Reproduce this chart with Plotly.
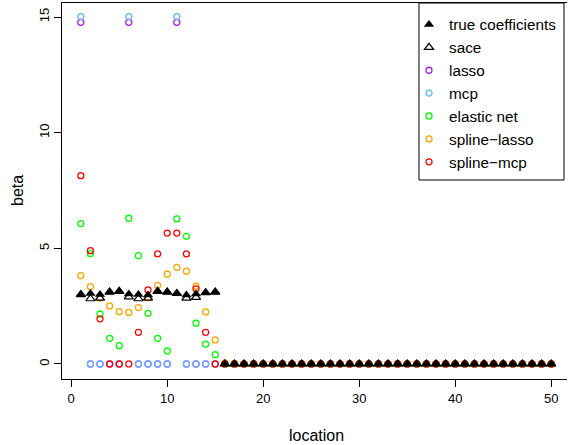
import plotly.graph_objects as go

location = list(range(1, 51))
zeros35 = [0.0] * 35

true_coef = [3.00, 3.05, 3.00, 3.11, 3.14, 3.03, 3.00, 2.98, 3.14, 3.11, 3.05, 2.98, 3.03, 3.08, 3.11] + zeros35
sace = [3.00, 2.82, 2.85, 3.11, 3.14, 2.90, 2.82, 2.85, 3.14, 3.11, 3.05, 2.85, 2.88, 3.08, 3.11] + zeros35
lasso = [14.77, 0, 0, 0, 0, 14.77, 0, 0, 0, 0, 14.77, 0, 0, 0, 0] + zeros35
mcp = [15.02, 0, 0, 0, 0, 15.02, 0, 0, 0, 0, 15.02, 0, 0, 0, 0] + zeros35
elastic_net = [6.07, 4.77, 2.16, 1.11, 0.79, 6.30, 4.68, 2.19, 1.11, 0.56, 6.27, 5.52, 1.76, 0.86, 0.40] + zeros35
spline_lasso = [3.82, 3.34, 2.85, 2.51, 2.26, 2.23, 2.44, 2.87, 3.40, 3.89, 4.18, 4.01, 3.36, 2.25, 1.04, 0.05] + [0.0] * 34
spline_mcp = [8.14, 4.90, 1.95, 0, 0, 0, 1.37, 3.20, 4.76, 5.66, 5.66, 4.76, 3.25, 1.37, 0] + zeros35

y_ticks = [0, 5, 10, 15]
x_ticks = [0, 10, 20, 30, 40, 50]

W, H = 568, 445
ML, MR, MT, MB = 62, 1, 3, 66
PW, PH = W - ML - MR, H - MT - MB
px_per_x = 9.6
px_per_y = 23.13
x0 = -0.96
y0 = -0.65

FONT = "Liberation Sans, Arial, sans-serif"

fig = go.Figure()

circ = [
    ("lasso", lasso, "#A020F0", 3),
    ("mcp", mcp, "#63B8FF", 4),
    ("elastic net", elastic_net, "#00FF00", 5),
    ("spline\u2212lasso", spline_lasso, "#FFA500", 6),
    ("spline\u2212mcp", spline_mcp, "#FF0000", 7),
]
for name, vals, col, rank in circ:
    fig.add_trace(go.Scatter(
        x=location, y=vals, mode="markers", name=name,
        legendgroup=name, legendrank=rank,
        marker=dict(symbol="circle-open", size=6, color=col, line=dict(width=1.3, color=col)),
    ))

fig.add_trace(go.Scatter(
    x=location, y=true_coef, mode="markers", name="true coefficients",
    legendgroup="true", legendrank=1,
    marker=dict(symbol="triangle-up", size=9, color="black", line=dict(width=0)),
))
fig.add_trace(go.Scatter(
    x=location, y=sace, mode="markers", name="sace",
    legendgroup="sace", legendrank=2,
    marker=dict(symbol="triangle-up-open", size=8, color="black", line=dict(width=1.2, color="black")),
))

fig.update_layout(
    width=W, height=H,
    margin=dict(l=ML, r=MR, t=MT, b=MB, pad=0),
    plot_bgcolor="white", paper_bgcolor="white",
    font=dict(family=FONT, size=13, color="black"),
    showlegend=True,
    legend=dict(
        x=(409 - ML) / PW, y=(MT + PH - 8) / PH, xanchor="left", yanchor="top",
        bgcolor="rgba(0,0,0,0)", borderwidth=0,
        font=dict(family=FONT, size=15.3, color="black"),
        traceorder="grouped", tracegroupgap=0,
        itemwidth=30,
    ),
    xaxis=dict(
        range=[x0, x0 + PW / px_per_x], tickvals=x_ticks, ticktext=[str(v) for v in x_ticks],
        showgrid=False, zeroline=False, showline=True, mirror=True, linecolor="black", linewidth=1,
        ticks="outside", ticklen=7, tickcolor="black", tickfont=dict(size=13),
    ),
    yaxis=dict(
        range=[y0, y0 + PH / px_per_y], tickvals=y_ticks, ticktext=[str(v) for v in y_ticks],
        showgrid=False, zeroline=False, showline=True, mirror=False, linecolor="black", linewidth=1,
        ticks="outside", ticklen=7, tickcolor="black", tickangle=-90, tickfont=dict(size=13),
    ),
    shapes=[dict(
        type="rect", xref="paper", yref="paper",
        x0=(419 - ML) / PW, x1=(564 - ML) / PW,
        y0=(MT + PH - 180) / PH, y1=1.0,
        line=dict(color="black", width=1), fillcolor="rgba(0,0,0,0)", layer="above",
    )],
    annotations=[
        dict(text="location", xref="paper", yref="paper",
             x=(316 - ML) / PW, y=(MT + PH - 435) / PH, xanchor="center", yanchor="middle",
             showarrow=False, font=dict(size=16)),
        dict(text="beta", xref="paper", yref="paper",
             x=(17 - ML) / PW, y=0.5, xanchor="center", yanchor="middle", textangle=-90,
             showarrow=False, font=dict(size=16)),
    ],
)

fig.write_html("out.html", config={"displayModeBar": False},
               post_script="document.body.style.margin='0';")
